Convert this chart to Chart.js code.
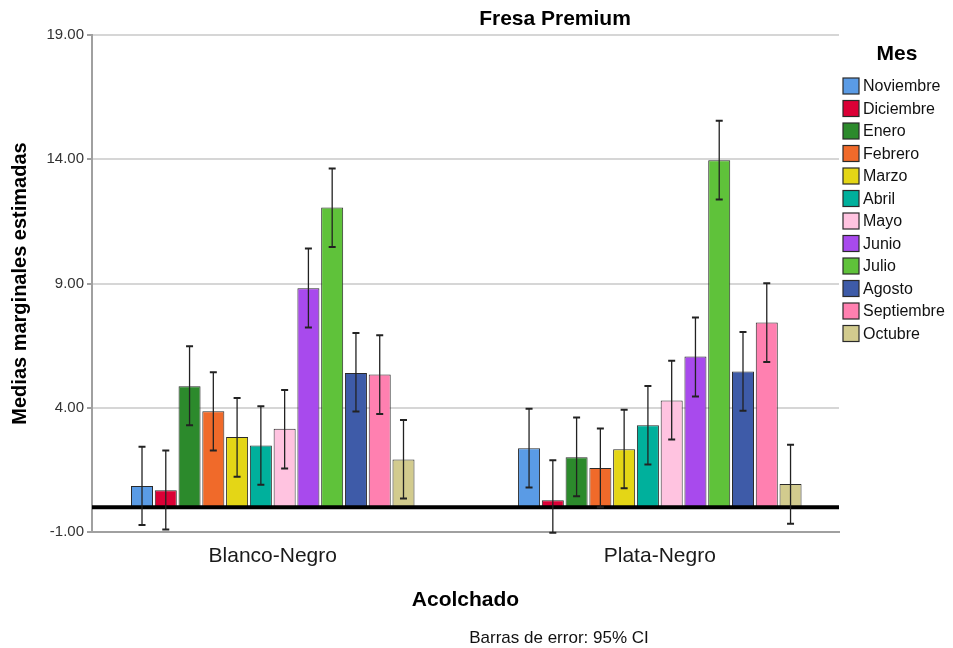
<!DOCTYPE html>
<html>
<head>
<meta charset="utf-8">
<script src="https://cdn.jsdelivr.net/npm/chart.js@4/dist/chart.umd.min.js"></script>
<style>
  html, body { margin: 0; padding: 0; background: #fff; }
  #wrap { width: 953px; height: 648px; }
</style>
</head>
<body>
<div id="wrap"><canvas id="grafico"></canvas></div>
<script>
// categorias del eje X (Acolchado)
const ACOLCHADO = ['Blanco-Negro', 'Plata-Negro'];
const MESES = ['Noviembre', 'Diciembre', 'Enero', 'Febrero', 'Marzo', 'Abril',
  'Mayo', 'Junio', 'Julio', 'Agosto', 'Septiembre', 'Octubre'];
const COLORES = ['#5a9be5', '#db0036', '#2c8a2c', '#f06a2a', '#e4d616', '#00b09c',
  '#ffc3e0', '#a84aed', '#5fc23a', '#3e5ba8', '#ff80b0', '#d2cb8e'];

// medias marginales estimadas por mes
const MEDIA_BN = [0.85, 0.68, 4.87, 3.86, 2.82, 2.48, 3.15, 8.81, 12.06, 5.40, 5.34, 1.92];
const MEDIA_PN = [2.37, 0.28, 2.01, 1.58, 2.33, 3.30, 4.29, 6.06, 13.96, 5.46, 7.43, 0.93];
// intervalos de confianza 95%
const LI_BN = [-0.72, -0.90, 3.30, 2.28, 1.22, 0.90, 1.56, 7.23, 10.47, 3.85, 3.75, 0.35];
const LS_BN = [2.43, 2.28, 6.47, 5.43, 4.39, 4.06, 4.71, 10.41, 13.63, 7.01, 6.92, 3.51];
const LI_PN = [0.79, -1.03, 0.44, 0.00, 0.76, 1.72, 2.72, 4.45, 12.38, 3.88, 5.84, -0.67];
const LS_PN = [3.96, 1.89, 3.61, 3.17, 3.92, 4.88, 5.89, 7.63, 15.55, 7.05, 9.01, 2.51];

const Y_TICKS = [-1, 4, 9, 14, 19];

const FUENTE = '"Liberation Sans", Arial, sans-serif';

const datasets = MESES.map((mes, i) => ({
  label: mes,
  data: [{ x: 0, y: MEDIA_BN[i] }, { x: 1, y: MEDIA_PN[i] }],
  backgroundColor: COLORES[i],
  borderColor: '#2a2a2a',
  borderWidth: 1,
  categoryPercentage: 0.737,
  barPercentage: 0.926
}));

// linea del cero, barras de error, titulo, leyenda y nota
const extras = {
  id: 'extras',
  afterDatasetsDraw(chart) {
    const ctx = chart.ctx;
    const y = chart.scales.y;
    const area = chart.chartArea;
    ctx.save();
    const y0 = y.getPixelForValue(0);
    ctx.strokeStyle = '#000';
    ctx.lineWidth = 4;
    ctx.beginPath();
    ctx.moveTo(area.left, y0);
    ctx.lineTo(area.right, y0);
    ctx.stroke();

    ctx.strokeStyle = '#222';
    MESES.forEach((m, i) => {
      const meta = chart.getDatasetMeta(i);
      const lo = [LI_BN[i], LI_PN[i]];
      const hi = [LS_BN[i], LS_PN[i]];
      meta.data.forEach((bar, j) => {
        const yl = y.getPixelForValue(lo[j]);
        const yh = y.getPixelForValue(hi[j]);
        ctx.lineWidth = 1.3;
        ctx.beginPath();
        ctx.moveTo(bar.x, yh);
        ctx.lineTo(bar.x, yl);
        ctx.stroke();
        ctx.lineWidth = 2;
        ctx.beginPath();
        ctx.moveTo(bar.x - 3.5, yh);
        ctx.lineTo(bar.x + 3.5, yh);
        ctx.moveTo(bar.x - 3.5, yl);
        ctx.lineTo(bar.x + 3.5, yl);
        ctx.stroke();
      });
    });
    ctx.restore();
  },
  afterDraw(chart) {
    const ctx = chart.ctx;
    ctx.save();
    ctx.fillStyle = '#000';
    ctx.textAlign = 'center';
    ctx.textBaseline = 'middle';
    ctx.font = 'bold 21px ' + FUENTE;
    ctx.fillText('Fresa Premium', 555, 19);

    ctx.font = '17px ' + FUENTE;
    ctx.fillStyle = '#111';
    ctx.fillText('Barras de error: 95% CI', 559, 638);

    ctx.font = 'bold 21px ' + FUENTE;
    ctx.fillStyle = '#000';
    ctx.fillText('Mes', 897, 54);

    ctx.textAlign = 'left';
    ctx.font = '16px ' + FUENTE;
    MESES.forEach((mes, i) => {
      const top = 78 + i * 22.5;
      ctx.fillStyle = COLORES[i];
      ctx.fillRect(843, top, 16, 16);
      ctx.strokeStyle = '#2a2a2a';
      ctx.lineWidth = 1.2;
      ctx.strokeRect(843, top, 16, 16);
      ctx.fillStyle = '#111';
      ctx.fillText(mes, 863, top + 9);
    });
    ctx.restore();
  }
};

new Chart(document.getElementById('grafico'), {
  type: 'bar',
  data: { datasets: datasets },
  options: {
    responsive: true,
    maintainAspectRatio: false,
    animation: false,
    layout: { padding: { top: 35, right: 114, bottom: 0, left: 0 } },
    plugins: {
      legend: { display: false },
      tooltip: { enabled: false }
    },
    scales: {
      x: {
        type: 'linear',
        min: -0.467,
        max: 1.463,
        offset: false,
        bounds: 'data',
        afterFit: s => { s.height = 116; },
        afterBuildTicks: s => { s.ticks = ACOLCHADO.map((a, k) => ({ value: k })); },
        grid: { display: false },
        border: { color: '#a0a0a0', width: 2 },
        ticks: {
          padding: 4,
          color: '#1a1a1a',
          font: { family: FUENTE, size: 21 },
          callback: v => ACOLCHADO[v] ?? ''
        },
        title: {
          display: true,
          text: 'Acolchado',
          color: '#000',
          font: { family: FUENTE, size: 21, weight: 'bold' },
          padding: { top: 0, bottom: 35 }
        }
      },
      y: {
        min: -1,
        max: 19,
        afterFit: s => { s.width = 92; },
        afterBuildTicks: s => { s.ticks = Y_TICKS.map(v => ({ value: v })); },
        border: { color: '#a0a0a0', width: 2 },
        grid: {
          color: c => c.tick && c.tick.value === -1 ? 'rgba(0,0,0,0)' : '#d6d6d6',
          lineWidth: 2,
          tickLength: 5,
          tickColor: '#a0a0a0'
        },
        ticks: {
          padding: 3,
          color: '#333',
          font: { family: FUENTE, size: 15 },
          callback: v => v.toFixed(2)
        },
        title: {
          display: true,
          text: 'Medias marginales estimadas',
          color: '#000',
          font: { family: FUENTE, size: 20, weight: 'bold' },
          padding: { top: 8, bottom: 0 }
        }
      }
    }
  },
  plugins: [extras]
});
</script>
</body>
</html>
